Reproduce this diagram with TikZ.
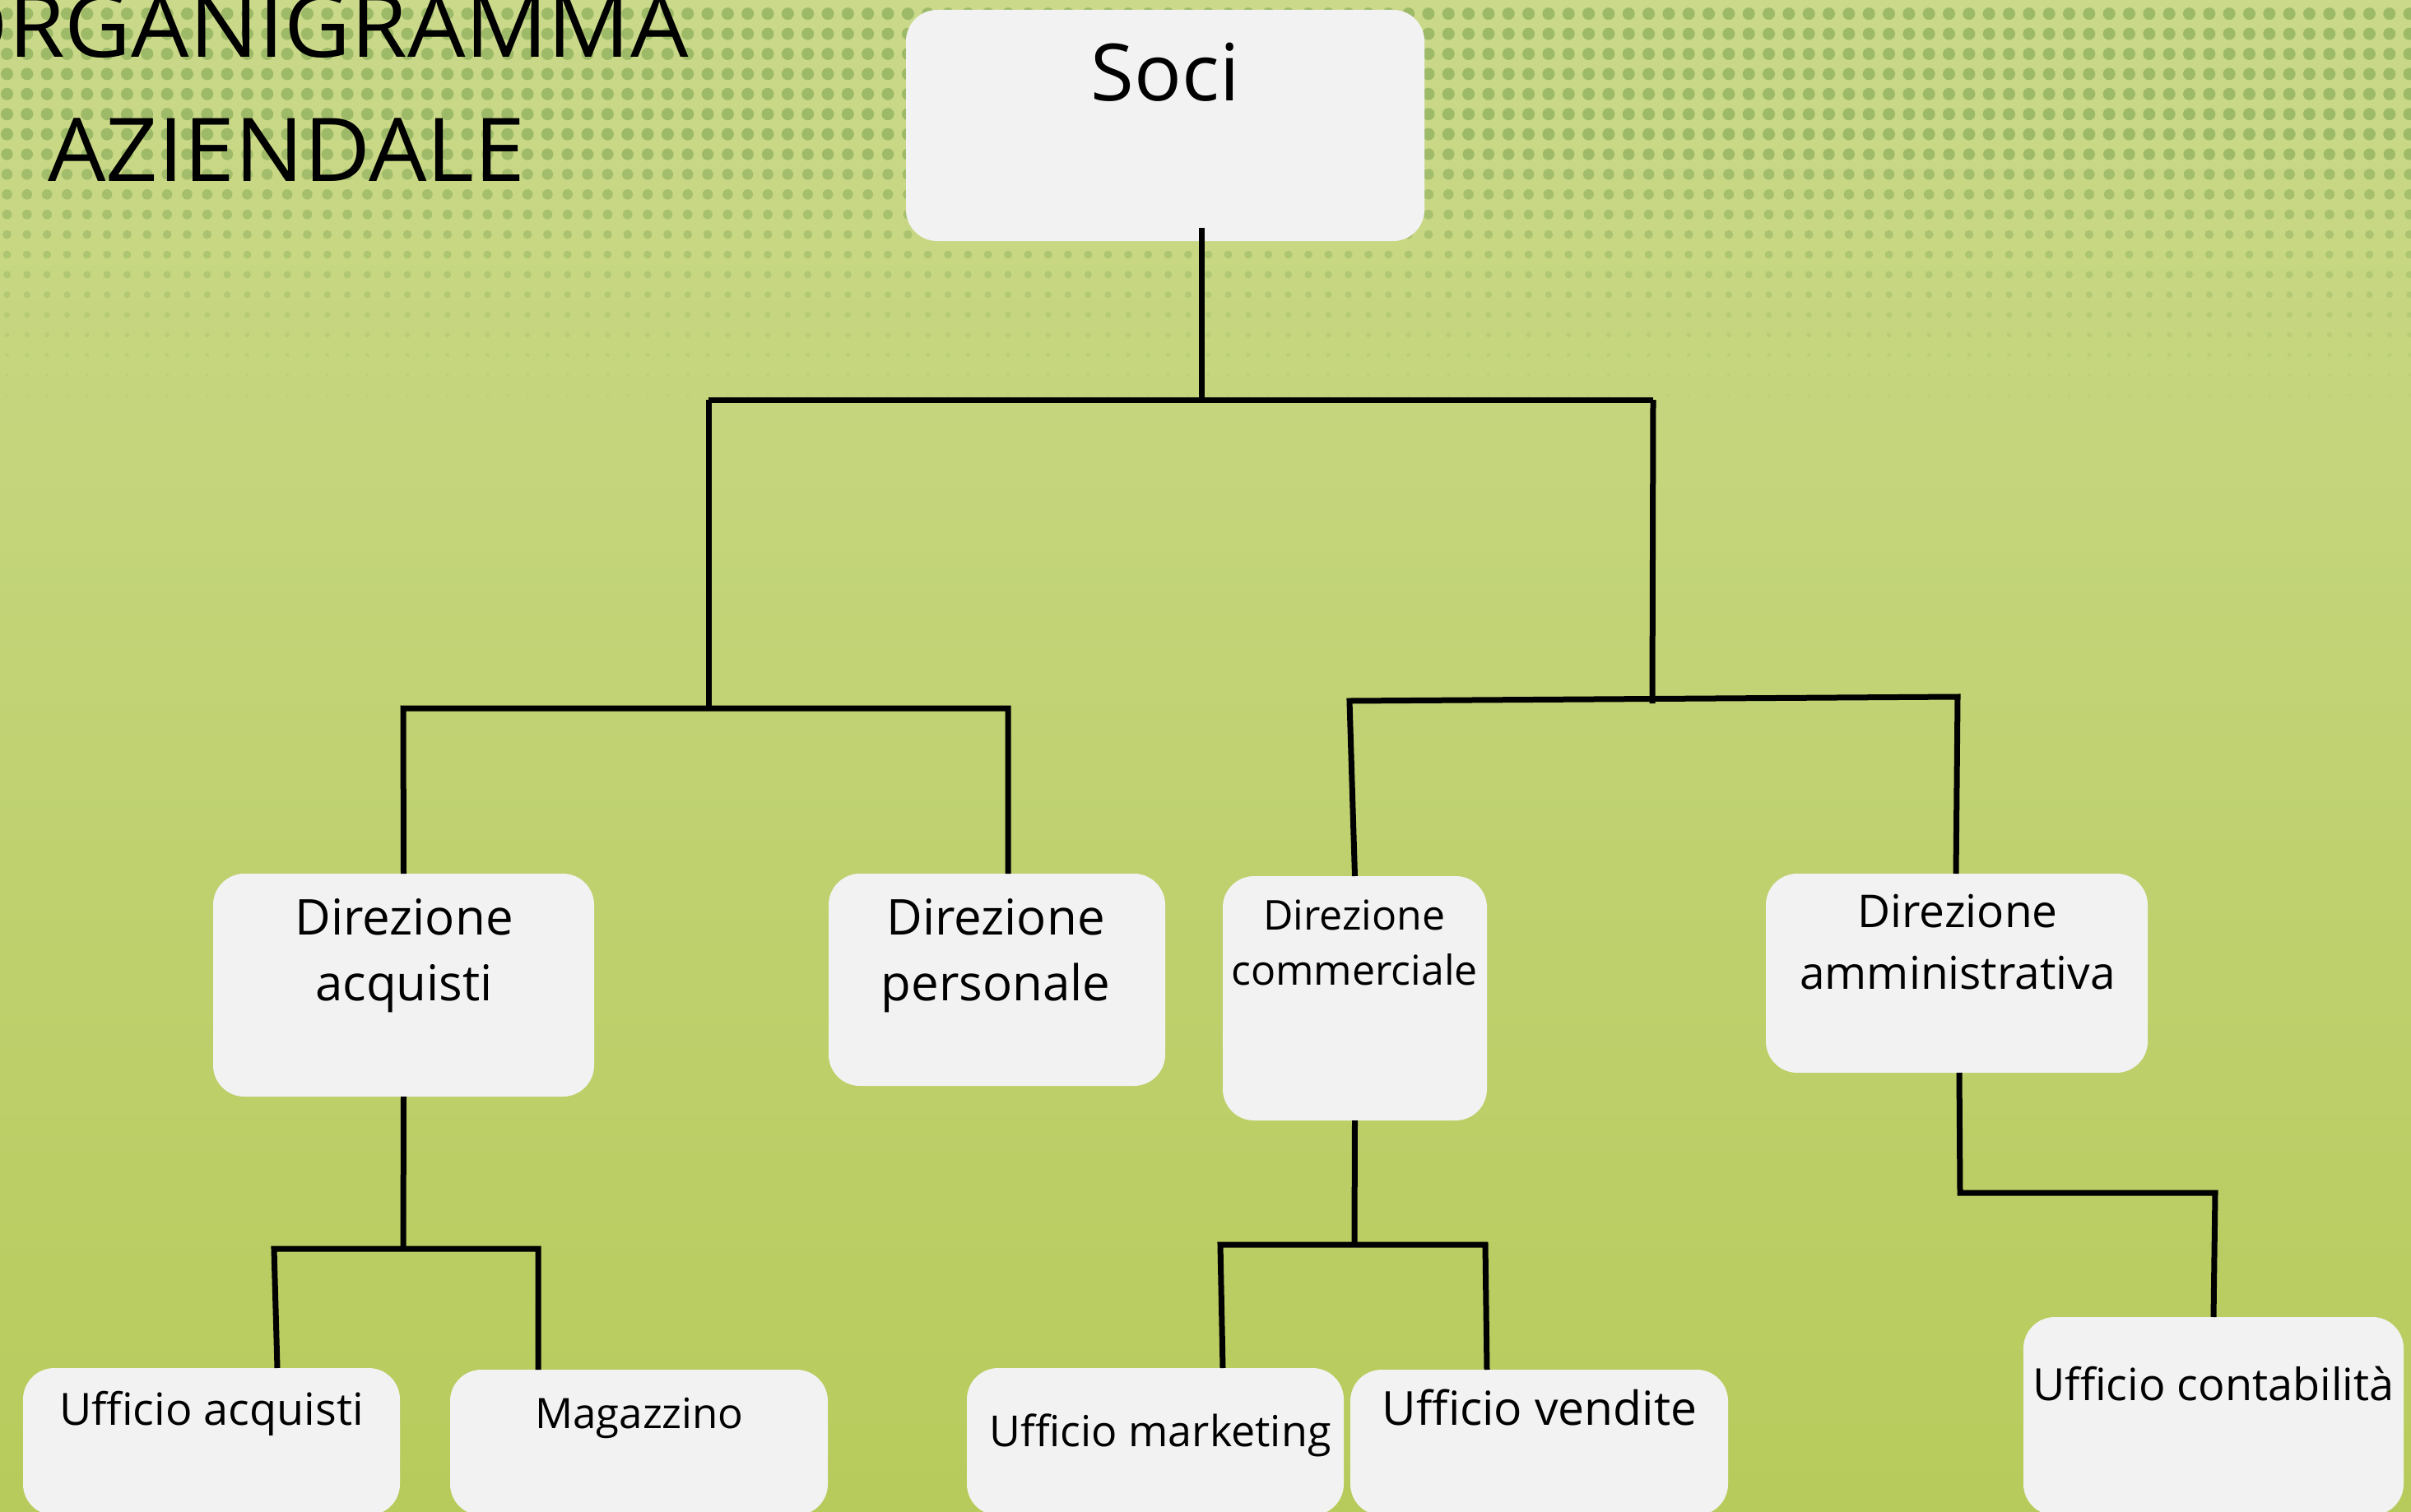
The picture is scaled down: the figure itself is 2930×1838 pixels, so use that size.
\documentclass[tikz,border=0pt]{standalone}
\usepackage{fontspec}
\setmainfont{Open Sans}[Ligatures={NoCommon}]
\newfontfamily\titlefont{Open Sans}[FakeStretch=1.04]
\definecolor{ctop}{HTML}{D1DE9C}
\definecolor{cup}{HTML}{CAD98A}
\definecolor{cmid}{HTML}{C0D272}
\definecolor{clow}{HTML}{B7CB5C}
\definecolor{cbot}{HTML}{AEC444}
\definecolor{dotc}{HTML}{96B563}
\definecolor{boxc}{HTML}{F2F2F2}
\pgfdeclareverticalshading{bgshade}{100bp}{color(0bp)=(cbot); color(25bp)=(clow); color(50bp)=(cmid); color(75bp)=(cup); color(100bp)=(ctop)}
\begin{document}
\begin{tikzpicture}[x=1pt,y=-1pt,
  box/.style={draw=none, fill=boxc, rounded corners=38pt, inner sep=0pt, outer sep=0pt},
  conn/.style={draw=black, line width=7pt, line join=miter},
  lab/.style={anchor=base, inner sep=0pt, text=black},
  title/.style={inner sep=0pt, text=black, font=\titlefont\fontsize{107}{107}\selectfont}]
\useasboundingbox (0,0) rectangle (2930,1838);
\clip (0,0) rectangle (2930,1838);
\shade[shading=bgshade] (0,0) rectangle (2930,1838);
% halftone dots
\foreach \r in {0,...,20}{
  \pgfmathsetmacro\yy{-7.7+24.4*\r}
  \pgfmathsetmacro\tt{max(0,min(1,(\yy-170)/300))}
  \pgfmathsetmacro\rad{7.5-5.5*\tt}
  \pgfmathsetmacro\op{0.85-0.75*\tt}
  \foreach \c in {0,...,120}{
    \fill[dotc, opacity=\op] (8.5+24.33*\c,\yy) circle (\rad pt);
  }
}
% title
\node[title, anchor=base east] (t1) at (837,70) {ORGANIGRAMMA};
\node[title, anchor=base west] (t2) at (58,220) {AZIENDALE};
% boxes
\node[box, minimum width=630pt, minimum height=281pt] (soci) at (1416,152.5) {};
\node[box, minimum width=463pt, minimum height=271pt] (dacq) at (490.5,1197.5) {};
\node[box, minimum width=409pt, minimum height=258pt] (dpers) at (1211.5,1191) {};
\node[box, minimum width=321pt, minimum height=297pt] (dcomm) at (1646.5,1213.5) {};
\node[box, minimum width=464pt, minimum height=242pt] (damm) at (2378,1183) {};
\node[box, minimum width=458pt, minimum height=179pt] (uacq) at (257,1752.5) {};
\node[box, minimum width=459pt, minimum height=177pt] (mag) at (776.5,1753.5) {};
\node[box, minimum width=458pt, minimum height=179pt] (umkt) at (1404,1752.5) {};
\node[box, minimum width=459pt, minimum height=177pt] (uvend) at (1870.5,1753.5) {};
\node[box, minimum width=462pt, minimum height=241pt] (ucont) at (2690,1721.5) {};
% labels
\node[lab, font=\fontsize{96}{96}\selectfont] (soci-t) at (1416,123) {Soci};
\node[lab, font=\fontsize{60}{60}\selectfont] (dacq-t1) at (491,1136) {Direzione};
\node[lab, font=\fontsize{60}{60}\selectfont] (dacq-t2) at (491,1216) {acquisti};
\node[lab, font=\fontsize{60}{60}\selectfont] (dpers-t1) at (1210,1136) {Direzione};
\node[lab, font=\fontsize{60}{60}\selectfont] (dpers-t2) at (1210,1216) {personale};
\node[lab, font=\fontsize{50}{50}\selectfont] (dcomm-t1) at (1646,1130) {Direzione};
\node[lab, font=\fontsize{50}{50}\selectfont] (dcomm-t2) at (1646,1197) {commerciale};
\node[lab, font=\fontsize{55}{55}\selectfont] (damm-t1) at (2379,1127) {Direzione};
\node[lab, font=\fontsize{55}{55}\selectfont] (damm-t2) at (2379,1202) {amministrativa};
\node[lab, font=\fontsize{54}{54}\selectfont] (uacq-t) at (257,1732) {Ufficio acquisti};
\node[lab, font=\fontsize{51}{51}\selectfont] (mag-t) at (777,1736) {Magazzino};
\node[lab, font=\fontsize{52}{52}\selectfont] (umkt-t) at (1410,1758) {Ufficio marketing};
\node[lab, font=\fontsize{57}{57}\selectfont] (uvend-t) at (1871,1732) {Ufficio vendite};
\node[lab, font=\fontsize{54}{54}\selectfont] (ucont-t) at (2690,1702) {Ufficio contabilità};
% junction coordinates
\coordinate (s0) at (1460,277);
\coordinate (h1) at (1460,486);
\coordinate (hL) at (861,486);
\coordinate (hR) at (2009,486);
\coordinate (bL) at (861,861);
\coordinate (bLl) at (490,861);
\coordinate (bLr) at (1225,861);
\coordinate (bR) at (2008,855);
\coordinate (bRl) at (1640,852);
\coordinate (bRr) at (2379,847);
\coordinate (dM) at (490,1518);
\coordinate (dLl) at (333,1518);
\coordinate (dLr) at (654,1518);
\coordinate (eM) at (1646,1510);
\coordinate (eL) at (1483,1513);
\coordinate (eR) at (1805,1513);
\coordinate (fB) at (2382,1450);
\coordinate (fC) at (2692,1450);
% connectors
\draw[conn] (s0) -- (h1);
\draw[conn] (hL) -- (hR);
\draw[conn] (hL) -- (bL);
\draw[conn] (dacq.north) -- (bLl) -- (bLr) -- (bLr |- dpers.north);
\draw[conn] (hR) -- (bR);
\draw[conn] (dcomm.north) -- (bRl) -- (bRr) -- ([xshift=-2pt]bRr |- damm.north);
\draw[conn] (dacq.south) -- (dM);
\draw[conn] ([xshift=4pt]dLl |- uacq.north) -- (dLl) -- (dLr) -- (dLr |- mag.north);
\draw[conn] (dcomm.south) -- (eM);
\draw[conn] ([xshift=3pt]eL |- umkt.north) -- (eL) -- (eR) -- ([xshift=2pt]eR |- uvend.north);
\draw[conn] ([xshift=-1pt]fB |- damm.south) -- (fB) -- (fC) -- (ucont.north);
\end{tikzpicture}
\end{document}
